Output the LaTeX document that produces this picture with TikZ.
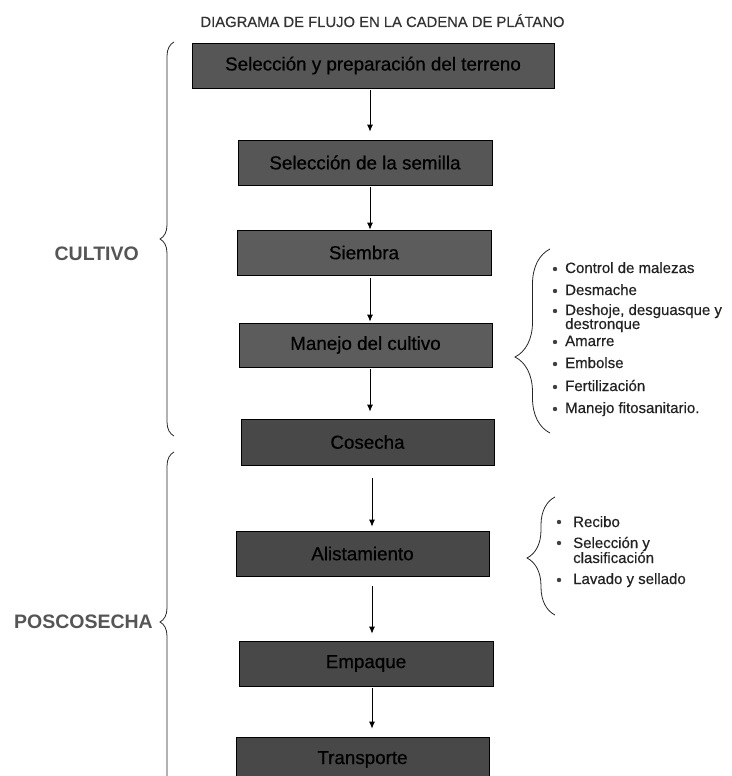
\documentclass[tikz,border=0pt]{standalone}
\usepackage{fontspec}
\setmainfont{Liberation Sans}
\newfontfamily\cajafont[FakeBold=0.6]{Liberation Sans}
\newfontfamily\listafont[FakeBold=0.4]{Liberation Sans}
\newfontfamily\titulofont[FakeBold=0.3]{Liberation Sans}
\usetikzlibrary{arrows.meta,decorations.pathreplacing}
\definecolor{grisA}{HTML}{565656}
\definecolor{grisB}{HTML}{5C5C5C}
\definecolor{grisC}{HTML}{484848}
\definecolor{fasegray}{HTML}{555555}
\definecolor{listtext}{HTML}{222222}
\definecolor{titulogray}{HTML}{333333}
\begin{document}
\begin{tikzpicture}[x=1pt,y=-1pt,
  box/.style={draw=black, line width=0.8pt, minimum height=45pt, inner sep=0pt, font=\cajafont\fontsize{18.8}{22}\selectfont},
  flow/.style={-{Latex[length=7pt,width=6pt]}, line width=0.8pt},
  lbl/.style={anchor=base west, inner sep=0pt, text=listtext, font=\listafont\fontsize{15}{17}\selectfont},
  fase/.style={anchor=base east, inner sep=0pt, text=fasegray, font=\bfseries\fontsize{19.5}{22}\selectfont},
  llave/.style={decorate, decoration={brace, amplitude=#1}, line width=0.8pt, draw=black!85}]
\useasboundingbox (0,0) rectangle (731,776);
\node[anchor=base, inner sep=0pt, text=titulogray, font=\titulofont\fontsize{14.8}{17}\selectfont] (titulo) at (382.5,27) {DIAGRAMA DE FLUJO EN LA CADENA DE PLÁTANO};
% etapas de cultivo
\node[box, fill=grisA, minimum width=362pt] (terreno) at (373,65.5) {Selección y preparación del terreno};
\node[box, fill=grisA, minimum width=254pt] (semilla) at (365,162.5) {Selección de la semilla};
\node[box, fill=grisB, minimum width=254pt] (siembra) at (364,252.5) {Siembra};
\node[box, fill=grisB, minimum width=253pt, minimum height=44pt] (manejo) at (365.5,345) {Manejo del cultivo};
\node[box, fill=grisC, minimum width=253pt, minimum height=46pt] (cosecha) at (367.5,442) {Cosecha};
% etapas de poscosecha
\node[box, fill=grisC, minimum width=253pt] (alist) at (362.5,553.5) {Alistamiento};
\node[box, fill=grisC, minimum width=254pt] (empaque) at (366,663.5) {Empaque};
\node[box, fill=grisC, minimum width=253pt] (transp) at (362.5,759.5) {Transporte};
\coordinate (ejeA) at (370,0);
\coordinate (ejeB) at (372,0);
\draw[flow, shorten <=2pt, shorten >=8pt] (terreno.south -| ejeA) -- (semilla.north -| ejeA);
\draw[flow, shorten <=2pt] (semilla.south -| ejeA) -- (siembra.north -| ejeA);
\draw[flow, shorten <=3pt, shorten >=1pt] (siembra.south -| ejeA) -- (manejo.north -| ejeA);
\draw[flow, shorten <=2pt, shorten >=7pt] (manejo.south -| ejeA) -- (cosecha.north -| ejeA);
\draw[flow, shorten <=13pt, shorten >=4pt] (cosecha.south -| ejeB) -- (alist.north -| ejeB);
\draw[flow, shorten <=10pt, shorten >=7pt] (alist.south -| ejeB) -- (empaque.north -| ejeB);
\draw[flow, shorten <=2pt, shorten >=8pt] (empaque.south -| ejeB) -- (transp.north -| ejeB);
% llaves de las fases
\draw[llave=14pt] (174,436) -- (174,42);
\draw[llave=14pt] (174,792) -- (174,452);
\node[fase] (cultivo) at (139,260) {CULTIVO};
\node[fase] (poscosecha) at (153,628) {POSCOSECHA};
% labores del cultivo
\draw[llave=35pt, decoration={aspect=0.413}] (550,433) -- (550,249);
\fill[black!75] (555,269) circle[radius=2.2pt];
\fill[black!75] (555,291) circle[radius=2.2pt];
\fill[black!75] (555,311) circle[radius=2.2pt];
\fill[black!75] (555,342) circle[radius=2.2pt];
\fill[black!75] (555,364) circle[radius=2.2pt];
\fill[black!75] (555,387) circle[radius=2.2pt];
\fill[black!75] (555,409) circle[radius=2.2pt];
\node[lbl] (malezas) at (565,273) {Control de malezas};
\node[lbl] (desmache) at (565,295) {Desmache};
\node[lbl] (deshoje) at (565,315) {Deshoje, desguasque y};
\node[lbl] (destronque) at (565,329) {destronque};
\node[lbl] (amarre) at (565,346) {Amarre};
\node[lbl] (embolse) at (565,368) {Embolse};
\node[lbl] (fertil) at (565,391) {Fertilización};
\node[lbl] (fito) at (565,413) {Manejo fitosanitario.};
% labores de alistamiento
\draw[llave=28pt, decoration={aspect=0.483}] (555,615) -- (555,497);
\fill[black!75] (559,522) circle[radius=2.2pt];
\fill[black!75] (559,543) circle[radius=2.2pt];
\fill[black!75] (559,580) circle[radius=2.2pt];
\node[lbl] (recibo) at (573,527) {Recibo};
\node[lbl] (selec) at (573,548) {Selección y};
\node[lbl] (clasif) at (573,563) {clasificación};
\node[lbl] (lavado) at (573,584) {Lavado y sellado};
\end{tikzpicture}
\end{document}
